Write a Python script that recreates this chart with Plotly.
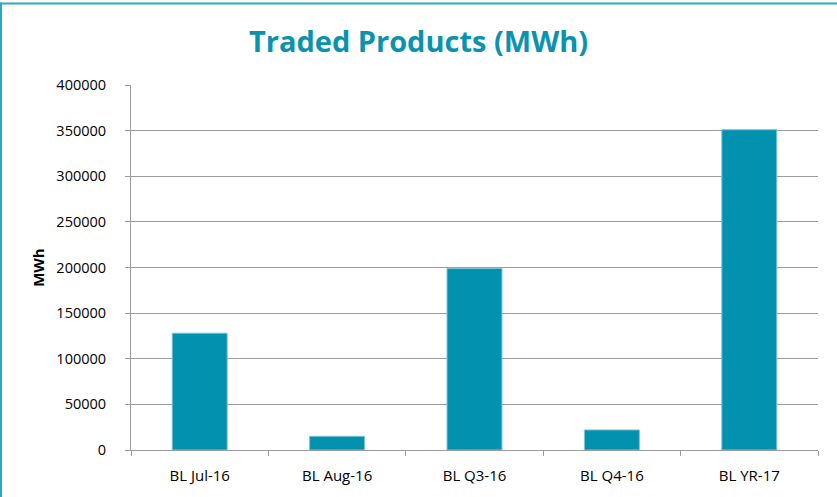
import plotly.graph_objects as go

categories = ["BL Jul-16", "BL Aug-16", "BL Q3-16", "BL Q4-16", "BL YR-17"]
values = [128000, 15000, 199000, 22000, 351000]
y_ticks = [0, 50000, 100000, 150000, 200000, 250000, 300000, 350000, 400000]

W, H = 837, 497
ml, mr, mt, mb = 131, 19, 85, 47
pw, ph = W - ml - mr, H - mt - mb

teal = "#0291AF"
grey = "#9C9C9C"
frame = "#2FA5C0"
font = "Open Sans"

fig = go.Figure(go.Bar(
    x=categories, y=values,
    marker=dict(color=teal, line=dict(color="#7fc3d3", width=1)),
    width=0.40,
))

fig.update_layout(
    width=W, height=H,
    margin=dict(l=ml, r=mr, t=mt, b=mb, autoexpand=False),
    paper_bgcolor="white", plot_bgcolor="white",
    showlegend=False,
    title=dict(text="<b>Traded Products (MWh)</b>", x=0.5, xref="container", xanchor="center",
               y=1 - 42 / H, yref="container", yanchor="middle",
               font=dict(family=font, size=29, color="#0A93AE")),
    font=dict(family=font, size=14, color="#000000"),
)

fig.update_xaxes(
    showline=True, linecolor=grey, linewidth=1,
    ticks="outside", tickson="boundaries", ticklen=5, tickcolor=grey,
    showgrid=False,
    ticklabelstandoff=12,
    tickfont=dict(family=font, size=15, color="#000"),
)
fig.update_yaxes(
    range=[0, 400000], tickvals=y_ticks, ticktext=[str(v) for v in y_ticks],
    showline=True, linecolor=grey, linewidth=1,
    ticks="outside", ticklen=5, tickcolor=grey,
    showgrid=True, gridcolor=grey, gridwidth=1,
    zeroline=False,
    ticklabelstandoff=16,
    tickfont=dict(family=font, size=14.5, color="#000"),
    title=dict(text="<b>MWh</b>", font=dict(family=font, size=15, color="#000"), standoff=8),
)

# outer frame of the chart (only top and left edges are inside the picture)
fig.add_shape(type="line", xref="paper", yref="paper",
              x0=(0 - ml) / pw, x1=(W - ml) / pw,
              y0=1 + (mt - 3.5) / ph, y1=1 + (mt - 3.5) / ph,
              line=dict(color=frame, width=2), layer="above")
fig.add_shape(type="line", xref="paper", yref="paper",
              x0=(1 - ml) / pw, x1=(1 - ml) / pw,
              y0=-(mb + 2) / ph, y1=1 + (mt - 2.5) / ph,
              line=dict(color=frame, width=2), layer="above")

fig.write_html("out.html", config={"displayModeBar": False},
               post_script="document.body.style.margin='0';document.body.style.overflow='hidden';")
